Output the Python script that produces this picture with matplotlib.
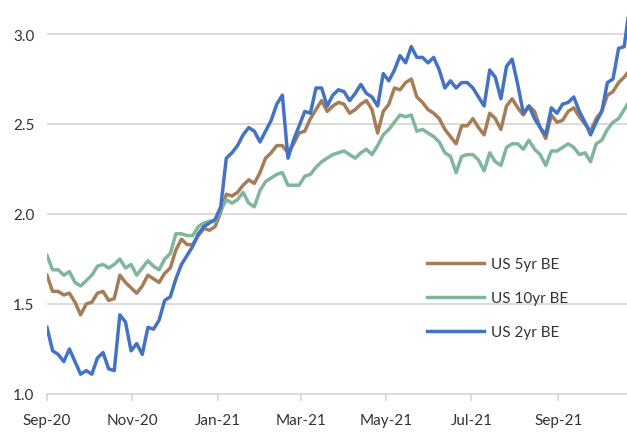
import numpy as np
import pandas as pd
import matplotlib
matplotlib.use('Agg')
import matplotlib.pyplot as plt
import matplotlib.dates as mdates

# 数据：每4天一个点，自2020-09-01起
dates = pd.date_range('2020-09-01', periods=105, freq='4D')

us5 = [1.66, 1.57, 1.57, 1.55, 1.56, 1.51, 1.44, 1.50, 1.51, 1.56,
       1.57, 1.52, 1.53, 1.66, 1.62, 1.59, 1.56, 1.60, 1.66, 1.64,
       1.62, 1.67, 1.70, 1.80, 1.86, 1.83, 1.83, 1.88, 1.92, 1.91,
       1.93, 2.01, 2.11, 2.10, 2.12, 2.16, 2.19, 2.17, 2.23, 2.31,
       2.34, 2.38, 2.38, 2.34, 2.39, 2.45, 2.46, 2.53, 2.58, 2.63,
       2.57, 2.60, 2.62, 2.61, 2.56, 2.58, 2.61, 2.63, 2.58, 2.45,
       2.57, 2.61, 2.70, 2.69, 2.73, 2.75, 2.65, 2.62, 2.58, 2.56,
       2.53, 2.47, 2.43, 2.39, 2.49, 2.49, 2.53, 2.48, 2.44, 2.56,
       2.53, 2.47, 2.60, 2.64, 2.59, 2.55, 2.60, 2.57, 2.48, 2.42,
       2.55, 2.51, 2.52, 2.57, 2.59, 2.54, 2.50, 2.46, 2.53, 2.57,
       2.66, 2.68, 2.73, 2.76, 2.80]

us10 = [1.77, 1.69, 1.69, 1.66, 1.68, 1.62, 1.60, 1.63, 1.66, 1.71,
        1.72, 1.70, 1.72, 1.75, 1.70, 1.72, 1.66, 1.70, 1.74, 1.71,
        1.69, 1.75, 1.78, 1.89, 1.89, 1.88, 1.88, 1.93, 1.95, 1.96,
        1.96, 2.02, 2.08, 2.06, 2.08, 2.12, 2.06, 2.04, 2.13, 2.18,
        2.20, 2.22, 2.23, 2.16, 2.16, 2.16, 2.21, 2.22, 2.26, 2.29,
        2.31, 2.33, 2.34, 2.35, 2.33, 2.31, 2.34, 2.36, 2.33, 2.38,
        2.44, 2.47, 2.51, 2.55, 2.54, 2.55, 2.46, 2.47, 2.45, 2.43,
        2.40, 2.34, 2.32, 2.23, 2.32, 2.33, 2.33, 2.30, 2.24, 2.34,
        2.29, 2.27, 2.37, 2.39, 2.39, 2.36, 2.41, 2.36, 2.33, 2.27,
        2.35, 2.35, 2.37, 2.39, 2.37, 2.33, 2.34, 2.29, 2.39, 2.41,
        2.47, 2.51, 2.53, 2.58, 2.63]

us2 = [1.37, 1.24, 1.22, 1.18, 1.25, 1.18, 1.11, 1.13, 1.11, 1.20,
       1.23, 1.14, 1.13, 1.44, 1.40, 1.24, 1.28, 1.22, 1.37, 1.36,
       1.41, 1.52, 1.54, 1.64, 1.72, 1.77, 1.82, 1.89, 1.93, 1.95,
       1.97, 2.04, 2.31, 2.34, 2.38, 2.44, 2.48, 2.46, 2.40, 2.46,
       2.52, 2.61, 2.66, 2.31, 2.41, 2.49, 2.57, 2.56, 2.70, 2.70,
       2.60, 2.66, 2.69, 2.68, 2.63, 2.67, 2.72, 2.67, 2.65, 2.60,
       2.78, 2.74, 2.80, 2.88, 2.84, 2.93, 2.87, 2.87, 2.84, 2.87,
       2.80, 2.70, 2.74, 2.70, 2.73, 2.73, 2.70, 2.65, 2.60, 2.80,
       2.76, 2.64, 2.82, 2.86, 2.72, 2.56, 2.60, 2.53, 2.48, 2.44,
       2.59, 2.56, 2.61, 2.62, 2.65, 2.57, 2.51, 2.44, 2.51, 2.57,
       2.73, 2.75, 2.92, 2.93, 3.16]

labels = ['US 5yr BE', 'US 10yr BE', 'US 2yr BE']
colors = ['#A77D57', '#80B69B', '#4472C4']

plt.rcParams['font.family'] = ['Lato', 'DejaVu Sans']

fig = plt.figure(figsize=(6.27, 4.35), dpi=100)
ax = fig.add_axes([47 / 627, 1 - 395 / 435, 580 / 627, 395 / 435])

for s, lab, c in zip([us5, us10, us2], labels, colors):
    ax.plot(dates, s, color=c, lw=2.5, label=lab, solid_joinstyle='round')

ax.set_ylim(1.0, 3.0 + 35 / 180)
ax.set_xlim(pd.Timestamp('2020-09-01'), pd.Timestamp('2020-09-01') + pd.Timedelta(days=414))
ax.set_yticks([1.0, 1.5, 2.0, 2.5, 3.0])
ax.yaxis.set_major_formatter(plt.FormatStrFormatter('%.1f'))
ax.xaxis.set_major_locator(mdates.MonthLocator(bymonth=[1, 3, 5, 7, 9, 11]))
ax.xaxis.set_major_formatter(mdates.DateFormatter('%b-%y'))

ax.grid(axis='y', color='#D9D9D9', lw=1.3)
ax.set_axisbelow(True)
for sp in ['top', 'right', 'left']:
    ax.spines[sp].set_visible(False)
ax.spines['bottom'].set_color('#D9D9D9')
ax.spines['bottom'].set_linewidth(1.3)
ax.tick_params(axis='y', length=0, pad=9, labelsize=11, labelcolor='#333333')
ax.tick_params(axis='x', length=5, width=1.3, color='#D9D9D9', pad=9,
               labelsize=11, labelcolor='#333333')

ax.legend(loc='center left', bbox_to_anchor=(421 / 627, 1 - 299 / 435),
          bbox_transform=fig.transFigure, frameon=False, fontsize=11,
          handlelength=3.7, handletextpad=0.45, labelspacing=1.3,
          borderaxespad=0, labelcolor='#333333')

fig.savefig('out.png', dpi=100)
